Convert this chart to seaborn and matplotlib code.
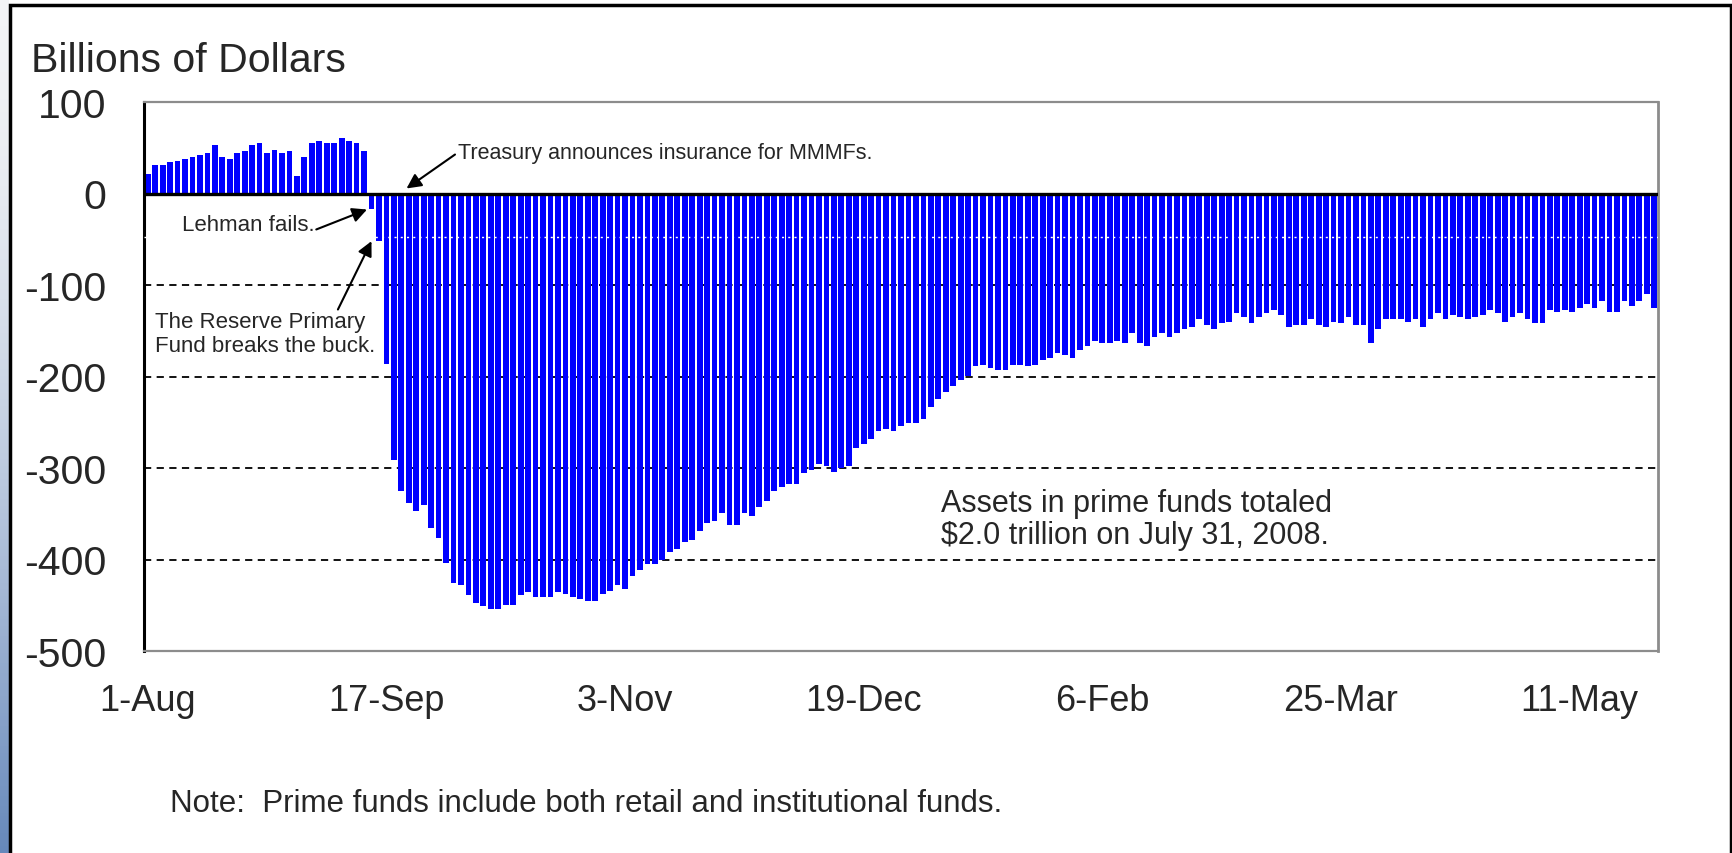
import numpy as np
import pandas as pd
import matplotlib
matplotlib.use("Agg")
import matplotlib.pyplot as plt
import seaborn as sns

# Net flows into prime money market funds, billions of dollars, one value per business day
# starting 1-Aug-2008
flows = [
    21, 31, 31, 34, 36, 38, 40, 42, 44, 53, 40, 38, 44, 46, 53, 55, 44, 47, 44, 46,
    19, 40, 55, 57, 55, 55, 61, 57, 55, 46,
    -17, -52, -186, -291, -325, -338, -347, -340, -366, -377,
    -404, -426, -428, -439, -447, -451, -454, -454, -450, -450,
    -439, -436, -441, -441, -441, -436, -438, -441, -443, -445,
    -445, -438, -434, -428, -432, -418, -411, -405, -405, -401,
    -392, -388, -381, -379, -369, -360, -358, -349, -362, -362,
    -349, -352, -343, -336, -325, -321, -317, -317, -306, -302,
    -296, -298, -304, -300, -298, -278, -274, -268, -260, -257,
    -260, -254, -251, -251, -246, -233, -225, -217, -210, -204,
    -199, -189, -187, -191, -193, -193, -187, -187, -189, -187,
    -182, -180, -174, -176, -180, -171, -167, -161, -163, -163,
    -161, -163, -153, -163, -167, -157, -153, -157, -153, -148,
    -146, -137, -144, -148, -142, -140, -131, -135, -142, -135,
    -131, -127, -133, -146, -144, -144, -137, -144, -146, -140,
    -142, -135, -144, -144, -163, -148, -137, -137, -137, -140,
    -137, -146, -137, -131, -137, -133, -135, -137, -135, -133,
    -127, -131, -140, -135, -131, -137, -142, -142, -127, -129,
    -127, -129, -125, -121, -125, -118, -129, -129, -118, -123,
    -118, -110, -125,
]

tick_labels = ["1-Aug", "17-Sep", "3-Nov", "19-Dec", "6-Feb", "25-Mar", "11-May"]
tick_every = 32          # one label every 32 business days
y_ticks = [100, 0, -100, -200, -300, -400, -500]

df = pd.DataFrame({"day": np.arange(len(flows)), "flow": flows})

sns.set_style("white")
plt.rcParams["font.family"] = ["Liberation Sans", "DejaVu Sans"]

W, H = 1733, 854
fig = plt.figure(figsize=(W / 100, H / 100), dpi=100)
fig.patch.set_facecolor("white")

# left blue gradient strip of the slide background
strip = fig.add_axes([0, 0, 9 / W, 1])
grad = np.linspace(0, 1, 256).reshape(-1, 1) ** 1.6
cmap = matplotlib.colors.LinearSegmentedColormap.from_list("strip", ["#f3f4f6", "#6688bb"])
strip.imshow(grad, aspect="auto", cmap=cmap, extent=[0, 1, 0, 1])
strip.set_axis_off()

# outer black frame
fig.add_artist(plt.Rectangle((9.5 / W, -0.05), (1731 - 9.5) / W, (H - 5.5) / H + 0.05,
                             transform=fig.transFigure, fill=False, ec="black", lw=2.5))

# plot area in pixels: x 144..1658, y 103..652
ax = fig.add_axes([144 / W, 1 - 652 / H, (1658 - 144) / W, (652 - 103) / H])

sns.barplot(data=df, x="day", y="flow", color="#0000ff", saturation=1,
            width=0.77, linewidth=0, errorbar=None, ax=ax, zorder=2)

ax.set_xlim(-0.5, len(flows) - 0.5)
ax.set_ylim(-500, 100)
ax.set_xlabel("")
ax.set_ylabel("")

ax.set_yticks(y_ticks)
ax.set_yticklabels([str(v) for v in y_ticks], fontsize=29.5)
ax.set_xticks(np.arange(0, len(flows), tick_every)[:len(tick_labels)])
ax.set_xticklabels(tick_labels, fontsize=26)
ax.tick_params(axis="y", length=0, pad=27)
ax.tick_params(axis="x", length=0, pad=23)

# dashed gridlines, hidden on the frame edges
ax.set_axisbelow(True)
ax.yaxis.grid(True, color="black", ls=(0, (4, 3)), lw=1.3)
for val, gl in zip(ax.get_yticks(), ax.get_ygridlines()):
    if val in (100, 0, -500):
        gl.set_visible(False)

ax.axhline(0, color="black", lw=2.4, zorder=3)
ax.axhline(-47, color="white", lw=1.0, ls=(0, (1.5, 3)), zorder=4)

for side in ["top", "bottom"]:
    ax.spines[side].set_color("#8c8c8c")
    ax.spines[side].set_linestyle((0, (3, 1)))
    ax.spines[side].set_linewidth(1.6)
ax.spines["right"].set_color("#8c8c8c")
ax.spines["right"].set_linewidth(2)
ax.spines["left"].set_color("black")
ax.spines["left"].set_linewidth(2.2)

arrow = dict(arrowstyle="-|>", mutation_scale=22, lw=1.5, color="black",
             shrinkA=0, shrinkB=0)

ax.text(41.6, 44.8, "Treasury announces insurance for MMMFs.", fontsize=15.5,
        ha="left", va="center")
ax.annotate("", xy=(34.7, 5.5), xytext=(41.2, 42.6), arrowprops=arrow)

ax.text(4.6, -34.4, "Lehman fails.", fontsize=16, ha="left", va="center")
ax.annotate("", xy=(29.4, -17.5), xytext=(22.6, -39.3), arrowprops=arrow)

ax.text(1.0, -153, "The Reserve Primary\nFund breaks the buck.", fontsize=16,
        ha="left", va="center", linespacing=1.15)
ax.annotate("", xy=(30.0, -52.1), xytext=(25.5, -126.8), arrowprops=arrow)

ax.text(106.3, -356, "Assets in prime funds totaled\n$2.0 trillion on July 31, 2008.",
        fontsize=22, ha="left", va="center", linespacing=1.1)

fig.text(31 / W, 1 - 72 / H, "Billions of Dollars", fontsize=29.5, ha="left", va="baseline")
fig.text(170 / W, 1 - 812 / H, "Note:  Prime funds include both retail and institutional funds.",
         fontsize=22.5, ha="left", va="baseline")

fig.savefig("out.png", dpi=100)
